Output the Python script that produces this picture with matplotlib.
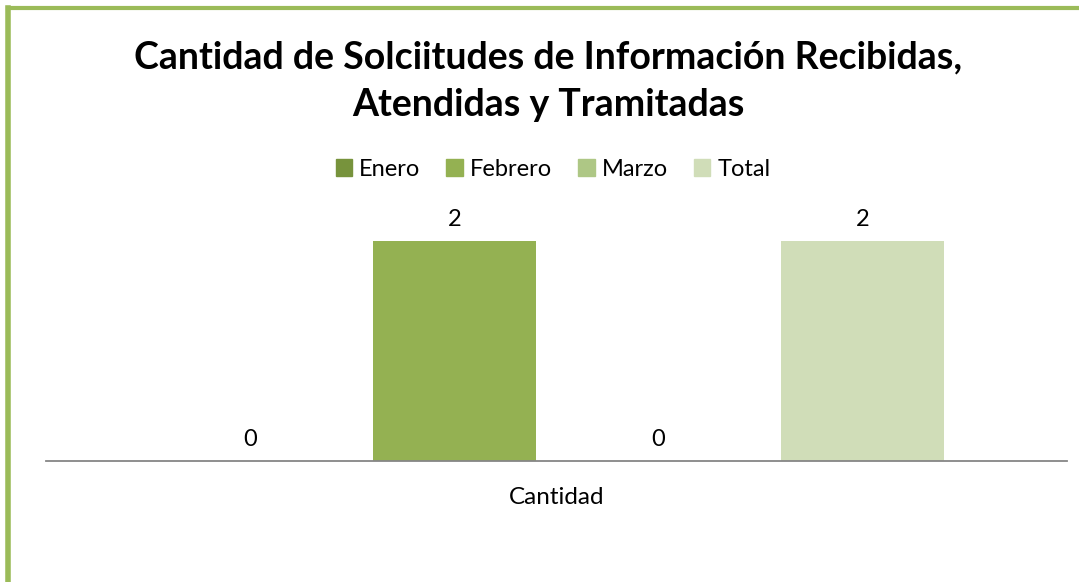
import matplotlib.pyplot as plt
from matplotlib.lines import Line2D
import numpy as np

plt.rcParams['font.family'] = ['Lato', 'DejaVu Sans']

TITLE = "Cantidad de Solciitudes de Información Recibidas,\nAtendidas y Tramitadas"
CATEGORY = "Cantidad"
SERIES = ["Enero", "Febrero", "Marzo", "Total"]
VALUES = [0, 2, 0, 2]
COLORS = ["#77933C", "#94B152", "#AEC785", "#D0DDB8"]
BORDER = "#9BBB59"


def main():
    fig = plt.figure(figsize=(10.79, 5.82), dpi=100)
    W, H = 1079, 582

    # plot area in pixels: x 46..1067, bottom at y=461
    left, right, bottom, top = 46, 1067, 461, 186
    ax = fig.add_axes([left / W, 1 - bottom / H, (right - left) / W, (bottom - top) / H])

    n = len(SERIES)
    group = 0.8
    slot = group / n
    x = -group / 2 + slot * (np.arange(n) + 0.5)
    bars = ax.bar(x, VALUES, width=slot * 0.8, color=COLORS, zorder=2)
    for b, v in zip(bars, VALUES):
        ax.text(b.get_x() + b.get_width() / 2, v + 0.1, str(v), ha="center",
                va="bottom", fontsize=17)

    ax.set_xlim(-0.5, 0.5)
    ax.set_ylim(0, 2.5)
    ax.set_yticks([])
    ax.set_xticks([])
    for s in ["top", "right", "left"]:
        ax.spines[s].set_visible(False)
    ax.spines["bottom"].set_color("#868686")
    ax.spines["bottom"].set_linewidth(1.3)
    ax.set_facecolor("none")

    fig.text(557 / W, 1 - 497 / H, CATEGORY, ha="center", va="center", fontsize=17.5)

    fig.text(548 / W, 1 - 81 / H, TITLE, ha="center", va="center", fontsize=27,
             fontweight="bold", linespacing=1.5)

    handles = [plt.Rectangle((0, 0), 1, 1, color=c) for c in COLORS]
    fig.legend(handles, SERIES, loc="center", bbox_to_anchor=(553 / W, 1 - 169 / H),
               ncol=4, frameon=False, fontsize=17, handlelength=0.7, handleheight=0.7,
               handletextpad=0.3, columnspacing=1.1)

    # green chart border (top and left only are visible)
    fig.add_artist(Line2D([8 / W, 8 / W], [0, 1 - 8 / H], color=BORDER, lw=4,
                          transform=fig.transFigure, solid_capstyle="projecting"))
    fig.add_artist(Line2D([8 / W, 1], [1 - 8 / H, 1 - 8 / H], color=BORDER, lw=3,
                          transform=fig.transFigure, solid_capstyle="projecting"))

    fig.savefig("out.png", dpi=100)


if __name__ == "__main__":
    main()
